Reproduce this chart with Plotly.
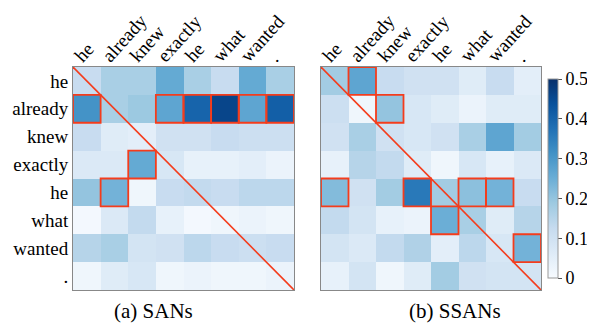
import plotly.graph_objects as go

words = ["he", "already", "knew", "exactly", "he", "what", "wanted", "."]

san_values = [
    [0.12, 0.17, 0.17, 0.26, 0.17, 0.12, 0.26, 0.17],
    [0.31, 0.17, 0.19, 0.27, 0.40, 0.46, 0.27, 0.41],
    [0.12, 0.06, 0.05, 0.10, 0.10, 0.12, 0.11, 0.11],
    [0.07, 0.07, 0.26, 0.08, 0.04, 0.04, 0.05, 0.03],
    [0.20, 0.24, 0.02, 0.12, 0.13, 0.12, 0.14, 0.14],
    [0.01, 0.07, 0.13, 0.04, 0.01, 0.02, 0.03, 0.02],
    [0.15, 0.17, 0.09, 0.10, 0.14, 0.12, 0.11, 0.12],
    [0.02, 0.06, 0.08, 0.02, 0.03, 0.02, 0.02, 0.03],
]

ssan_values = [
    [0.18, 0.27, 0.12, 0.10, 0.10, 0.06, 0.12, 0.05],
    [0.11, 0.02, 0.20, 0.08, 0.06, 0.03, 0.06, 0.06],
    [0.10, 0.17, 0.10, 0.08, 0.10, 0.17, 0.27, 0.18],
    [0.04, 0.15, 0.13, 0.06, 0.02, 0.08, 0.04, 0.07],
    [0.22, 0.10, 0.18, 0.36, 0.18, 0.21, 0.24, 0.12],
    [0.13, 0.09, 0.04, 0.03, 0.25, 0.17, 0.06, 0.15],
    [0.09, 0.07, 0.13, 0.16, 0.05, 0.14, 0.08, 0.24],
    [0.04, 0.09, 0.02, 0.06, 0.18, 0.10, 0.09, 0.09],
]

# highlighted (row, col) cells
san_boxes = [(1, 0), (1, 3), (1, 4), (1, 5), (1, 6), (1, 7), (3, 2), (4, 1)]
ssan_boxes = [(0, 1), (1, 2), (4, 0), (4, 3), (4, 5), (4, 6), (5, 4), (6, 7)]

subtitles = ["(a) SANs", "(b) SSANs"]
colorbar_ticks = [0, 0.1, 0.2, 0.3, 0.4, 0.5]
colorbar_labels = ["0", "0.1", "0.2", "0.3", "0.4", "0.5"]

RED = "#f43c1c"
FONT = "'Liberation Serif', 'Times New Roman', Times, serif"
idx = list(range(len(words)))

# page has an 8px body margin; figure sized to fit inside the window
OFF = 8
W, H = 595 - OFF, 324 - OFF


def fx(px):
    return (px - OFF) / W


def fy(py):
    return 1 - (py - OFF) / H


fig = go.Figure()
fig.add_trace(go.Heatmap(
    z=san_values, x=idx, y=idx, zmin=0, zmax=0.5, colorscale="Blues",
    showscale=False, xaxis="x", yaxis="y"))
fig.add_trace(go.Heatmap(
    z=ssan_values, x=idx, y=idx, zmin=0, zmax=0.5, colorscale="Blues",
    xaxis="x2", yaxis="y2",
    colorbar=dict(x=fx(548), xanchor="left", xpad=0, ypad=0, thickness=10,
                  len=(278 - 79) / H, y=fy(79), yanchor="top",
                  outlinecolor="#999999", outlinewidth=1,
                  ticks="outside", ticklen=4, tickcolor="#555555",
                  tickvals=colorbar_ticks, ticktext=colorbar_labels,
                  tickfont=dict(family=FONT, size=18, color="black"))))

n = len(words)
shapes = []
for xr, yr, boxes in [("x", "y", san_boxes), ("x2", "y2", ssan_boxes)]:
    shapes.append(dict(type="line", xref=xr, yref=yr, x0=-0.5, y0=-0.5,
                       x1=n - 0.5, y1=n - 0.5,
                       line=dict(color=RED, width=1.6)))
    for r, c in boxes:
        shapes.append(dict(type="rect", xref=xr, yref=yr,
                           x0=c - 0.5, x1=c + 0.5, y0=r - 0.5, y1=r + 0.5,
                           line=dict(color=RED, width=1.8)))

frame = dict(showgrid=False, zeroline=False, showline=True,
             linecolor="#888888", linewidth=1, mirror=True, automargin=False)
xtop = dict(side="top", tickmode="array", tickvals=idx, ticktext=words,
            tickangle=-48, ticks="", ticklabelshift=-11,
            ticklabelstandoff=-8, range=[-0.5, n - 0.5])

fig.update_layout(
    width=W, height=H,
    margin=dict(l=0, r=0, t=0, b=0, autoexpand=False),
    paper_bgcolor="white", plot_bgcolor="white",
    font=dict(family=FONT, size=19, color="black"),
    xaxis=dict(domain=[fx(73), fx(294)], anchor="y", **xtop, **frame),
    yaxis=dict(domain=[fy(290), fy(67)], tickmode="array", tickvals=idx,
               ticktext=words, anchor="x", ticks="",
               range=[n - 0.5, -0.5], **frame),
    xaxis2=dict(domain=[fx(321), fx(541)], anchor="y2", **xtop, **frame),
    yaxis2=dict(domain=[fy(290), fy(67)], anchor="x2",
                showticklabels=False, ticks="",
                range=[n - 0.5, -0.5], **frame),
    shapes=shapes,
    annotations=[
        dict(text=subtitles[0], x=fx(153.5), y=fy(310.5), xref="paper",
             yref="paper", xanchor="center", yanchor="middle",
             showarrow=False, font=dict(size=21)),
        dict(text=subtitles[1], x=fx(455), y=fy(310.5), xref="paper",
             yref="paper", xanchor="center", yanchor="middle",
             showarrow=False, font=dict(size=21)),
    ],
)

fig.write_html("out.html")
